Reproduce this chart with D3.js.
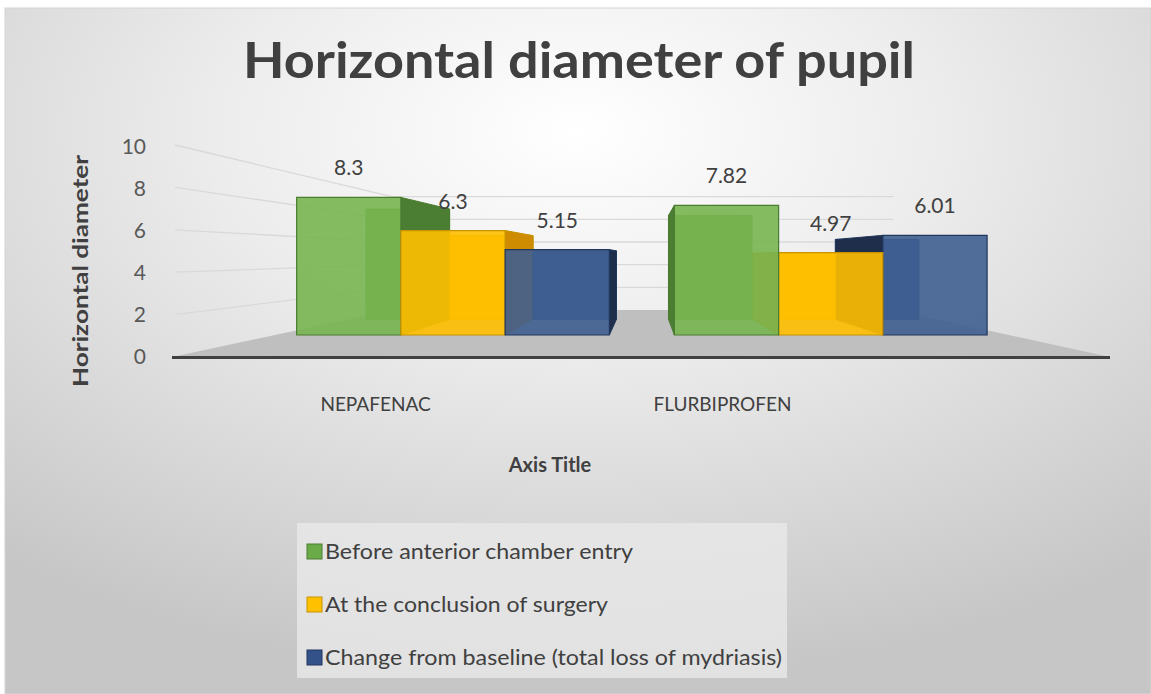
<!DOCTYPE html>
<html>
<head>
<meta charset="utf-8">
<script src="https://cdn.jsdelivr.net/npm/d3@7"></script>
<style>
  html, body { margin: 0; padding: 0; background: #ffffff; }
  svg { display: block; font-family: Lato, "Open Sans", sans-serif; }
</style>
</head>
<body>
<svg id="chart" width="1151" height="694"></svg>
<script>
// ---------------- data ----------------
const categories = ["NEPAFENAC", "FLURBIPROFEN"];
const seriesNames = [
  "Before anterior chamber entry",
  "At the conclusion of surgery",
  "Change from baseline (total loss of mydriasis)"
];
const beforeEntry = [8.3, 7.82];
const atConclusion = [6.3, 4.97];
const changeFromBaseline = [5.15, 6.01];
const yTicks = [0, 2, 4, 6, 8, 10];
const titleText = "Horizontal diameter of pupil";
const yAxisTitle = "Horizontal diameter";
const xAxisTitle = "Axis Title";

const seriesValues = [beforeEntry, atConclusion, changeFromBaseline];
const colors = [
  { front: "#78b550", side: "#4b7d33", back: "#6aa646", stroke: "#4a7c31", legend: "#6aab48" },
  { front: "#ffc000", side: "#d08c00", back: "#f2b400", stroke: "#c79300", legend: "#ffc000" },
  { front: "#3f5e90", side: "#1e2e4b", back: "#38578a", stroke: "#22375c", legend: "#34528a" }
];

const svg = d3.select("#chart");
const defs = svg.append("defs");

// background gradient
const grad = defs.append("radialGradient").attr("id", "bg")
  .attr("cx", "50%").attr("cy", "18%").attr("r", "80%");
grad.append("stop").attr("offset", "0%").attr("stop-color", "#ffffff");
grad.append("stop").attr("offset", "40%").attr("stop-color", "#ececec");
grad.append("stop").attr("offset", "100%").attr("stop-color", "#c6c6c6");

svg.append("rect").attr("x", 5).attr("y", 8).attr("width", 1146).attr("height", 686)
  .attr("fill", "url(#bg)").attr("stroke", "#d4d4d4").attr("stroke-width", 1);

// ---------------- perspective setup ----------------
const VP = { x: 645, y: 256 };
const sWall = 0.535, sFront = 0.782, sBack = 0.626;
const proj = (X, Y, s) => [VP.x + (X - VP.x) * s, VP.y + (Y - VP.y) * s];
const poly = pts => pts.map(p => p.join(",")).join(" ");

const yFront = d3.scaleLinear().domain([0, 10]).range([357, 145]);
const yAxisScale = d3.scaleLinear().domain([0, 10]).range([356, 146]);
const x0 = d3.scaleBand().domain(categories).range([172, 1110])
  .paddingInner(0.172).paddingOuter(0.057);
const x1 = d3.scaleBand().domain(d3.range(seriesNames.length)).range([0, x0.bandwidth()]);
const floorLeft = x0.range()[0], floorRight = x0.range()[1];

// gridlines (side wall + back wall)
const grid = svg.append("g");
yTicks.filter(t => t > 0).forEach(t => {
  const Y = yFront(t);
  const a = proj(floorLeft, Y, 1), b = proj(floorLeft, Y, sWall), c = proj(floorRight, Y, sWall);
  grid.append("polyline").attr("points", poly([[a[0] + 3, a[1]], b, c]))
    .attr("fill", "none").attr("stroke", "#d9d9d9").attr("stroke-width", 1.3);
});

// floor
svg.append("polygon")
  .attr("points", poly([proj(floorLeft, yFront(0), 1), proj(floorRight, yFront(0), 1),
    proj(floorRight, yFront(0), sWall), proj(floorLeft, yFront(0), sWall)]))
  .attr("fill", "#bfbfbf");

// axis line
svg.append("line").attr("x1", floorLeft).attr("x2", floorRight)
  .attr("y1", yFront(0) + 0.5).attr("y2", yFront(0) + 0.5)
  .attr("stroke", "#404040").attr("stroke-width", 3);

// bars
const bars = [];
categories.forEach((c, ci) => {
  seriesValues.forEach((vals, si) => {
    const X0 = x0(c) + x1(si), X1 = X0 + x1.bandwidth();
    bars.push({ ci, si, v: vals[ci], X0, X1 });
  });
});
bars.sort((a, b) => Math.abs((b.X0 + b.X1) / 2 - VP.x) - Math.abs((a.X0 + a.X1) / 2 - VP.x));

const barG = svg.append("g");
bars.forEach(d => {
  const Y0 = yFront(0), Y1 = yFront(d.v);
  const col = colors[d.si];
  const g = barG.append("g");
  // back face
  g.append("polygon").attr("points", poly([proj(d.X0, Y0, sBack), proj(d.X1, Y0, sBack),
    proj(d.X1, Y1, sBack), proj(d.X0, Y1, sBack)]))
    .attr("fill", col.back).attr("stroke", col.stroke).attr("stroke-width", 1);
  // side face
  const Xs = ((d.X0 + d.X1) / 2 < VP.x) ? d.X1 : d.X0;
  g.append("polygon").attr("points", poly([proj(Xs, Y0, sFront), proj(Xs, Y1, sFront),
    proj(Xs, Y1, sBack), proj(Xs, Y0, sBack)]))
    .attr("fill", col.side).attr("stroke", col.stroke).attr("stroke-width", 1);
  // top face if below the horizon
  if (Y1 > VP.y) {
    g.append("polygon").attr("points", poly([proj(d.X0, Y1, sFront), proj(d.X1, Y1, sFront),
      proj(d.X1, Y1, sBack), proj(d.X0, Y1, sBack)]))
      .attr("fill", col.side).attr("stroke", col.stroke).attr("stroke-width", 1);
  }
  // front face (slightly transparent)
  g.append("polygon").attr("points", poly([proj(d.X0, Y0, sFront), proj(d.X1, Y0, sFront),
    proj(d.X1, Y1, sFront), proj(d.X0, Y1, sFront)]))
    .attr("fill", col.front).attr("fill-opacity", 0.9)
    .attr("stroke", col.stroke).attr("stroke-width", 1.2);
});

// data labels
bars.forEach(d => {
  const top = proj((d.X0 + d.X1) / 2, yFront(d.v), sFront);
  svg.append("text").attr("x", top[0]).attr("y", top[1] - 22)
    .attr("text-anchor", "middle").attr("font-size", 21).attr("fill", "#404040")
    .text(d.v);
});

// y axis tick labels
const yAxisG = svg.append("g").attr("transform", "translate(146,0)")
  .call(d3.axisLeft(yAxisScale).tickValues(yTicks).tickSize(0).tickPadding(0));
yAxisG.select(".domain").remove();
yAxisG.selectAll("text").attr("font-size", 21).attr("fill", "#595959")
  .attr("font-family", "Lato, sans-serif").attr("dy", "0.35em");

// category labels
const xLabel = d3.scalePoint().domain(categories).range([375, 722]);
const xAxisG = svg.append("g").attr("transform", "translate(0,397)")
  .call(d3.axisBottom(xLabel).tickSize(0).tickPadding(0));
xAxisG.select(".domain").remove();
xAxisG.selectAll("text").attr("font-size", 19).attr("fill", "#404040")
  .attr("font-family", "Lato, sans-serif");

// titles
svg.append("text").attr("x", 579).attr("y", 78).attr("text-anchor", "middle")
  .attr("font-size", 50).attr("font-weight", 700).attr("fill", "#404040")
  .attr("textLength", 672).attr("lengthAdjust", "spacingAndGlyphs")
  .text(titleText);

svg.append("text").attr("transform", "translate(88,271) rotate(-90)")
  .attr("text-anchor", "middle").attr("font-size", 20).attr("font-weight", 700)
  .attr("fill", "#404040").attr("textLength", 232).attr("lengthAdjust", "spacingAndGlyphs")
  .text(yAxisTitle);

svg.append("text").attr("x", 550).attr("y", 472).attr("text-anchor", "middle")
  .attr("font-size", 20).attr("font-weight", 700).attr("fill", "#404040")
  .text(xAxisTitle);

// legend
const legend = svg.append("g");
legend.append("rect").attr("x", 297).attr("y", 523).attr("width", 490).attr("height", 155)
  .attr("fill", "#e8e8e8").attr("fill-opacity", 0.8);
const rowY = d3.scalePoint().domain(d3.range(seriesNames.length)).range([552, 658]);
const legendWidths = [308, 283, 457];
seriesNames.forEach((name, i) => {
  const cy = rowY(i);
  legend.append("rect").attr("x", 307).attr("y", cy - 8).attr("width", 15).attr("height", 15)
    .attr("fill", colors[i].legend).attr("stroke", colors[i].stroke).attr("stroke-width", 1);
  legend.append("text").attr("x", 325).attr("y", cy + 7).attr("font-size", 21)
    .attr("fill", "#404040").attr("textLength", legendWidths[i]).attr("lengthAdjust", "spacingAndGlyphs")
    .text(name);
});
</script>
</body>
</html>
